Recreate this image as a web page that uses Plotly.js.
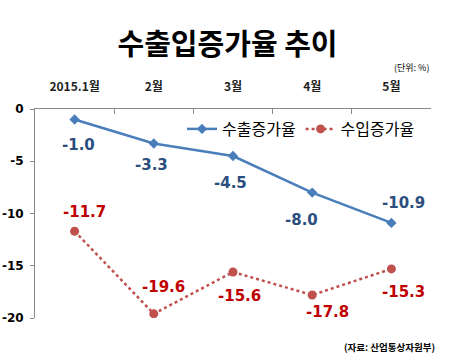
<!DOCTYPE html>
<html>
<head>
<meta charset="utf-8">
<script src="https://cdn.plot.ly/plotly-3.0.1.min.js"></script>
<style>html,body{margin:0;padding:0;background:#fff;}#chart{width:455px;height:360px;}</style>
</head>
<body>
<div id="chart"></div>
<script>
const categories = ['2015.1월', '2월', '3월', '4월', '5월'];
const exportGrowth = [-1.0, -3.3, -4.5, -8.0, -10.9];
const importGrowth = [-11.7, -19.6, -15.6, -17.8, -15.3];
const exportLabel = '수출증가율';
const importLabel = '수입증가율';
const yTicks = [0, -5, -10, -15, -20];

const exportShift = [[4, -26], [-2, -22], [-3, -27], [-11, -27], [12, 20]];
const importShift = [[10, 19], [10, 27], [6, -24], [15, -17], [12, -23]];

const blue = '#4A7EBB', red = '#C0504D';
const blueTxt = '#2B4E7E', redTxt = '#C00000';
const kfont = '"Noto Sans CJK KR", "Noto Sans", sans-serif';
const nfont = '"DejaVu Sans", "Liberation Sans", sans-serif';

const traces = [
  {x: categories, y: exportGrowth, name: exportLabel, type: 'scatter', mode: 'lines+markers',
   line: {color: blue, width: 2.5}, marker: {symbol: 'diamond', size: 8, color: blue}},
  {x: categories, y: importGrowth, name: importLabel, type: 'scatter', mode: 'lines+markers',
   line: {color: red, width: 2.5, dash: 'dot'}, marker: {symbol: 'circle', size: 9, color: red}}
];

const annotations = [];
categories.forEach((c, i) => {
  annotations.push({x: c, y: exportGrowth[i], xref: 'x', yref: 'y', text: exportGrowth[i].toFixed(1),
    showarrow: false, xshift: exportShift[i][0], yshift: exportShift[i][1],
    font: {family: nfont, size: 15, color: blueTxt, weight: 'bold'}});
  annotations.push({x: c, y: importGrowth[i], xref: 'x', yref: 'y', text: importGrowth[i].toFixed(1),
    showarrow: false, xshift: importShift[i][0], yshift: importShift[i][1],
    font: {family: nfont, size: 15, color: redTxt, weight: 'bold'}});
});
annotations.push({xref: 'paper', yref: 'paper', x: 1.0, y: 1 + (109-67)/209, xanchor: 'right', yanchor: 'middle',
  text: '(단위: %)', showarrow: false, font: {family: kfont, size: 9, color: '#000'}});
annotations.push({xref: 'paper', yref: 'paper', x: 1.0, xshift: 6, y: -(347-318)/209, xanchor: 'right', yanchor: 'middle',
  text: '(자료: 산업통상자원부)', showarrow: false, font: {family: kfont, size: 9.5, color: '#000', weight: 'bold'}});

const layout = {
  width: 455, height: 360,
  margin: {l: 35, r: 24, t: 109, b: 42},
  paper_bgcolor: '#fff', plot_bgcolor: '#fff',
  title: {text: '수출입증가율 추이', x: 0.5, xanchor: 'center', y: 1 - 45/360, yanchor: 'middle',
          yref: 'container', font: {family: kfont, size: 29, color: '#000', weight: 'bold'}},
  showlegend: true,
  legend: {orientation: 'h', x: (420-35)/396, xanchor: 'right', y: 1 - 20/209, yanchor: 'middle',
           font: {family: kfont, size: 16, color: '#000'}, bgcolor: 'rgba(0,0,0,0)', itemwidth: 30},
  xaxis: {type: 'category', range: [-0.5, 4.5], side: 'top', tickson: 'boundaries', ticks: 'inside', ticklen: 5, tickcolor: '#888',
          showline: true, linecolor: '#888', linewidth: 1, showgrid: false, zeroline: false,
          tickfont: {family: kfont, size: 12, color: '#222', weight: 'bold'}, ticklabelstandoff: 12, fixedrange: true},
  yaxis: {range: [-20, 0], tickvals: yTicks, ticktext: yTicks.map(String), ticks: 'outside', ticklen: 4, tickcolor: '#888',
          showline: true, linecolor: '#888', linewidth: 1, showgrid: false, zeroline: false,
          tickfont: {family: nfont, size: 12, color: '#000', weight: 'bold'}, ticklabelstandoff: 4},
  annotations: annotations
};

Plotly.newPlot('chart', traces, layout, {displayModeBar: false, staticPlot: true});
</script>
</body>
</html>
